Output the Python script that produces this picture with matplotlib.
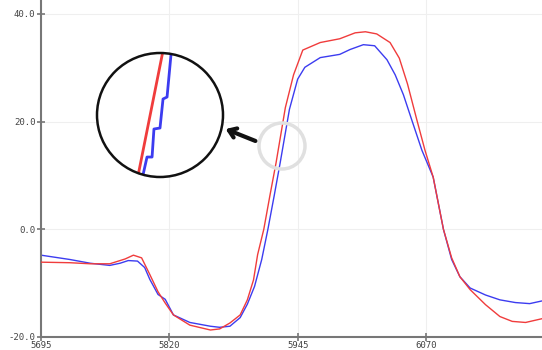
import matplotlib
matplotlib.use("Agg")
import matplotlib.pyplot as plt
from matplotlib.patches import Circle, Ellipse, FancyArrowPatch

# ---- data ----
red_x = [5695, 5723, 5743, 5762, 5777, 5785, 5793, 5801, 5809, 5816, 5824, 5840,
         5860, 5869, 5879, 5889, 5896, 5902, 5906, 5912, 5918, 5924, 5933, 5941,
         5950, 5967, 5986, 6001, 6011, 6022, 6035, 6044, 6052, 6061, 6069, 6077,
         6087, 6095, 6103, 6113, 6128, 6142, 6154, 6167, 6183]
red_y = [-6.1, -6.2, -6.4, -6.4, -5.5, -4.8, -5.3, -8.4, -11.6, -13.7, -15.9, -17.8,
         -18.7, -18.5, -17.4, -15.9, -13.1, -9.4, -4.7, 0.0, 6.3, 12.4, 22.6, 28.7,
         33.3, 34.7, 35.4, 36.5, 36.7, 36.3, 34.7, 31.8, 27.0, 20.4, 14.7, 9.7,
         0.0, -5.3, -8.8, -11.2, -14.0, -16.2, -17.1, -17.3, -16.6]

blue_x = [5695, 5723, 5743, 5762, 5772, 5780, 5789, 5796, 5801, 5809, 5816, 5824,
          5840, 5860, 5869, 5879, 5889, 5896, 5903, 5910, 5916, 5922, 5928, 5937,
          5945, 5952, 5967, 5986, 5996, 6009, 6020, 6032, 6040, 6048, 6056, 6066,
          6077, 6087, 6095, 6103, 6113, 6128, 6142, 6157, 6171, 6183]
blue_y = [-4.8, -5.6, -6.3, -6.7, -6.3, -5.8, -5.9, -7.1, -9.3, -12.1, -13.0, -15.9,
          -17.3, -18.0, -18.2, -18.0, -16.4, -13.9, -10.6, -5.6, 0.0, 6.1, 12.4, 22.3,
          27.9, 30.1, 31.9, 32.5, 33.4, 34.3, 34.1, 31.5, 28.7, 25.0, 20.4, 14.7,
          9.7, 0.0, -5.6, -8.8, -10.9, -12.2, -13.1, -13.6, -13.8, -13.3]

x_ticks = [5695, 5820, 5945, 6070]
y_ticks = [-20, 0, 20, 40]
y_labels = ["-20.0", "0.0", "20.0", "40.0"]

# magnified detail shown in the circular inset (inset-local units 0..1)
zoom_red_u = [0.30, 0.54]
zoom_red_v = [-0.12, 1.10]
zoom_blue_u = [0.61, 0.587, 0.556, 0.524, 0.50, 0.452, 0.437, 0.397, 0.365, 0.35]
zoom_blue_v = [1.15, 0.984, 0.645, 0.629, 0.395, 0.387, 0.161, 0.161, 0.016, -0.1]

RED = "#f03c3c"
BLUE = "#3c3cf0"

fig = plt.figure(figsize=(5.42, 3.50), dpi=100)
ax = fig.add_axes([41 / 542, 13 / 350, 501 / 542, 337 / 350])

ax.plot(red_x, red_y, color=RED, lw=1.0, zorder=3)
ax.plot(blue_x, blue_y, color=BLUE, lw=1.0, zorder=2)

ax.set_xlim(5695, 6183)
ax.set_ylim(-20, 42.6)
ax.set_xticks(x_ticks)
ax.set_xticklabels([str(t) for t in x_ticks])
ax.set_yticks(y_ticks)
ax.set_yticklabels(y_labels)
ax.grid(True, color="#efefef", lw=0.8)
ax.set_axisbelow(True)

for s in ["top", "right"]:
    ax.spines[s].set_visible(False)
for s in ["left", "bottom"]:
    ax.spines[s].set_color("#777777")
    ax.spines[s].set_linewidth(1.5)

ax.tick_params(direction="inout", length=6, width=1.2, color="#777777",
               labelsize=6.5, labelcolor="#444444", pad=1)
ax.tick_params(axis="x", pad=0)
for lab in ax.get_xticklabels() + ax.get_yticklabels():
    lab.set_family("DejaVu Sans Mono")

# light gray highlight circle on the rising edge
fig.add_artist(Ellipse((282 / 542, 1 - 146 / 350), 46 / 542, 46 / 350,
                       transform=fig.transFigure, fill=False,
                       edgecolor="#e0e0e0", lw=2.5, zorder=5))

# circular magnified inset
iax = fig.add_axes([97 / 542, 1 - 177 / 350, 126 / 542, 124 / 350])
iax.set_xlim(0, 1)
iax.set_ylim(0, 1)
iax.axis("off")
circ = Circle((0.5, 0.5), 0.5, transform=iax.transAxes, facecolor="white",
              edgecolor="none", zorder=1)
iax.add_patch(circ)
l1, = iax.plot(zoom_red_u, zoom_red_v, color=RED, lw=2, zorder=2)
l2, = iax.plot(zoom_blue_u, zoom_blue_v, color=BLUE, lw=2, zorder=2)
l1.set_clip_path(circ)
l2.set_clip_path(circ)
iax.add_patch(Circle((0.5, 0.5), 0.5, transform=iax.transAxes, fill=False,
                     edgecolor="#111111", lw=1.8, zorder=3, clip_on=False))

# arrow pointing to the inset
fig.add_artist(FancyArrowPatch((258 / 542, 1 - 142 / 350), (223 / 542, 1 - 128 / 350),
                               transform=fig.transFigure, arrowstyle="->,head_length=5,head_width=3.5",
                               color="#111111", lw=3, mutation_scale=1, zorder=6))

fig.savefig("out.png", dpi=100)
